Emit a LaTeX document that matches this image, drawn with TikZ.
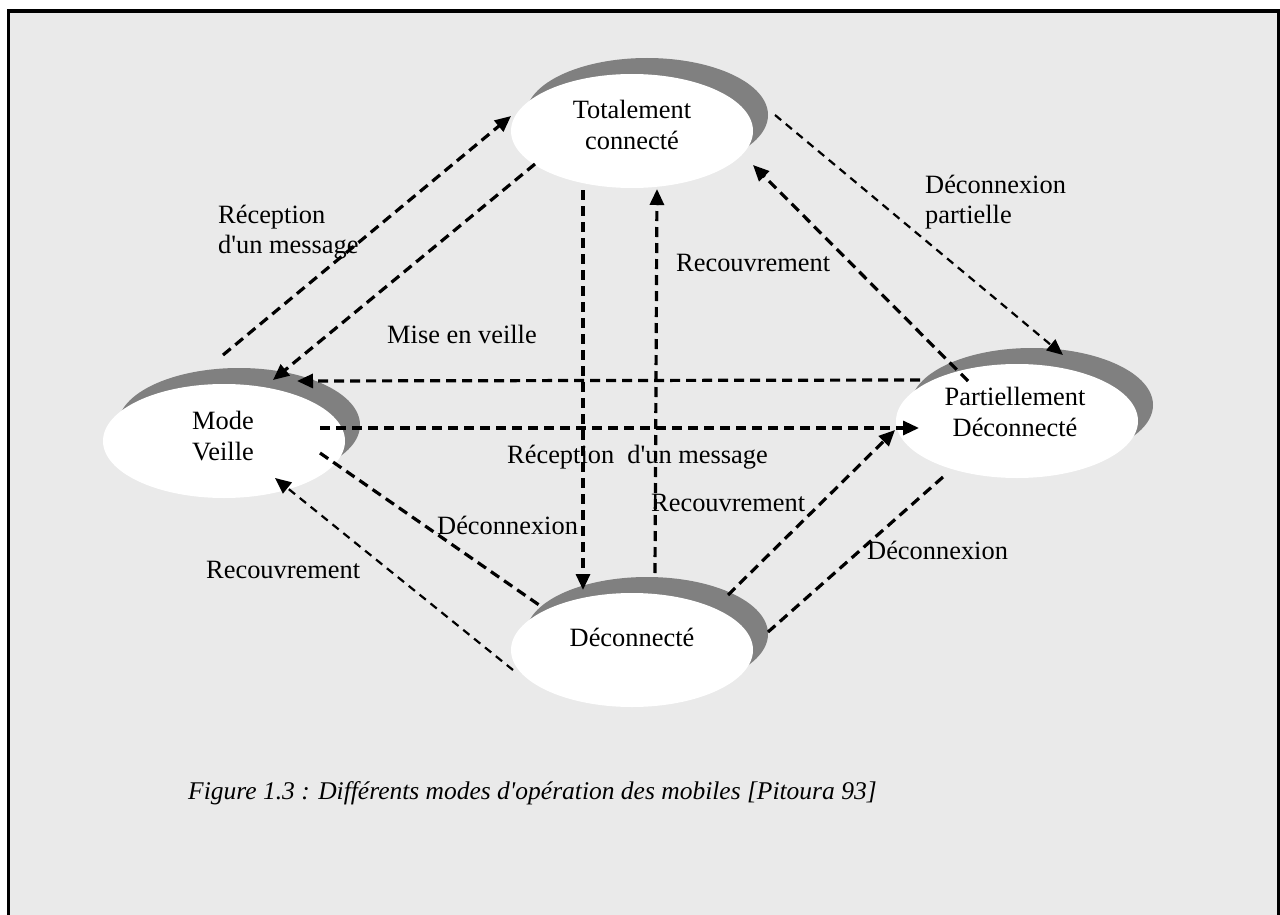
\documentclass[tikz,border=0pt]{standalone}
\usepackage{fontspec}
\setmainfont{Liberation Serif}
\usetikzlibrary{arrows.meta,shapes.geometric,shadows}
\definecolor{paneltone}{HTML}{EAEAEA}
\definecolor{shadowtone}{HTML}{808080}
\begin{document}
\begin{tikzpicture}[x=1pt,y=-1pt,
  state/.style={ellipse, fill=white, minimum width=242pt, minimum height=114pt, inner sep=0pt,
    general shadow={fill=shadowtone, shadow xshift=15pt, shadow yshift=16pt}},
  statetext/.style={font=\fontsize{26.4}{31}\selectfont, align=center, inner sep=0pt},
  lbl/.style={font=\fontsize{26.4}{30}\selectfont, align=left, inner sep=0pt},
  heavy/.style={line width=3.2pt, dash pattern=on 10pt off 6pt},
  light/.style={line width=2.2pt, dash pattern=on 8pt off 6pt},
  tip/.style={-{Triangle[length=16pt,width=14pt]}},
]
\useasboundingbox (0,0) rectangle (1280,915);
\clip (0,0) rectangle (1280,915);
\fill[white] (0,0) rectangle (1280,915);
% framed panel, open past the lower edge
\draw[line width=3.3pt, fill=paneltone] (8.5,11) rectangle (1278.5,940);

% states
\node[state] (tc) at (632,131) {};
\node[state] (mv) at (224,441) {};
\node[state] (pd) at (1017,421) {};
\node[state] (dc) at (632,650) {};

\node[statetext] (tc-text) at (632,124.5) {Totalement\\connecté};
\node[statetext] (mv-text) at (223,436) {Mode\\Veille};
\node[statetext] (pd-text) at (1015,412) {Partiellement\\Déconnecté};
\node[statetext] (dc-text) at (632,637) {Déconnecté};

% transitions
\draw[heavy,tip] ([shift={(-1,-86)}]mv.center) -- ([shift={(-121,-15)}]tc.center);
\draw[heavy,tip] ([shift={(-97,33)}]tc.center) -- ([shift={(49,-61)}]mv.center);
\draw[heavy,tip] ([shift={(-49,59)}]tc.center) -- ([shift={(-49,-60)}]dc.center);
\draw[heavy,tip] ([shift={(23,-77)}]dc.center) -- ([shift={(25,58)}]tc.center);
\draw[heavy,tip] ([shift={(-49,-40)}]pd.center) -- ([shift={(121,34)}]tc.center);
\draw[light,tip] ([shift={(143,-16)}]tc.center) -- ([shift={(46,-66)}]pd.center);
\draw[heavy,tip] ([shift={(-97,-41)}]pd.center) -- ([shift={(73,-60)}]mv.center);
\draw[heavy,tip] ([shift={(96,-13)}]mv.center) -- ([shift={(-98,7)}]pd.center);
\draw[heavy] ([shift={(96,12)}]mv.center) -- ([shift={(-90,-43)}]dc.center);
\draw[light,tip] ([shift={(-119,20)}]dc.center) -- ([shift={(51,37)}]mv.center);
\draw[heavy,tip] ([shift={(96,-55)}]dc.center) -- ([shift={(-122,9)}]pd.center);
\draw[heavy] ([shift={(-74,56)}]pd.center) -- ([shift={(136,-18)}]dc.center);

% transition labels
\node[lbl, anchor=north west] (l-recep) at (218,205) {Réception\\d\textquotesingle un message};
\node[lbl, anchor=base west] (l-veille) at (387,343) {Mise en veille};
\node[lbl, anchor=base west] (l-recov1) at (676,271) {Recouvrement};
\node[lbl, anchor=north west] (l-partial) at (925,175) {Déconnexion\\partielle};
\node[lbl, anchor=base west] (l-recep2) at (507,463) {Réception~~d\textquotesingle un message};
\node[lbl, anchor=base west] (l-recov2) at (651,511) {Recouvrement};
\node[lbl, anchor=base west] (l-deco1) at (437,534) {Déconnexion};
\node[lbl, anchor=base west] (l-recov3) at (206,578) {Recouvrement};
\node[lbl, anchor=base west] (l-deco2) at (867,559) {Déconnexion};

% caption
\node[anchor=base west, inner sep=0pt, font=\fontsize{25.5}{30}\selectfont\itshape] (caption)
  at (188,799) {Figure 1.3 : Différents modes d\textquotesingle opération des mobiles [Pitoura 93]};
\end{tikzpicture}
\end{document}
